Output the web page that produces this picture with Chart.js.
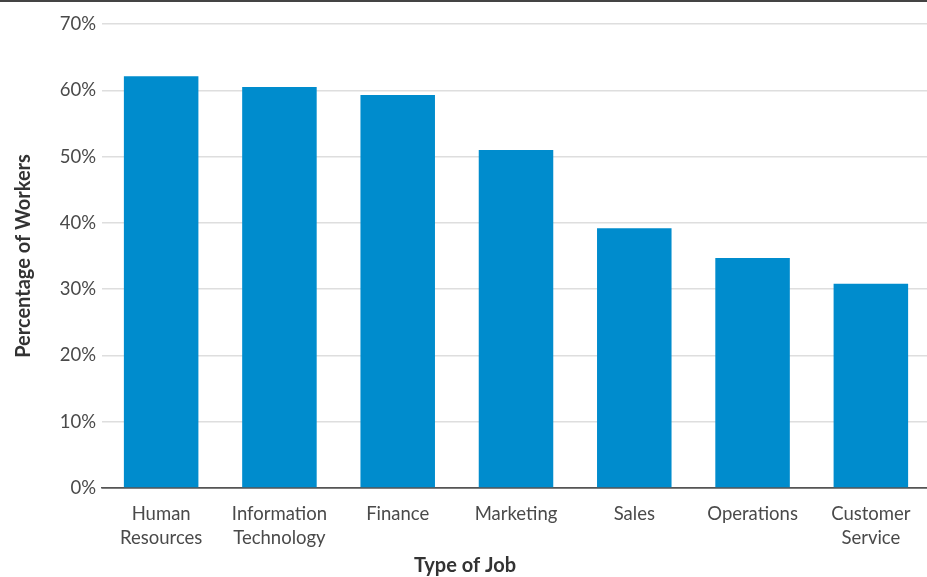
<!DOCTYPE html>
<html>
<head>
<meta charset="utf-8">
<script src="https://cdn.jsdelivr.net/npm/chart.js@4.4.1/dist/chart.umd.min.js"></script>
<style>
  html, body { margin: 0; padding: 0; background: #fff; }
  #wrap { width: 927px; height: 575px; border-top: 2px solid #444; overflow: hidden; }
</style>
</head>
<body>
<div id="wrap"><canvas id="chart" width="930" height="575"></canvas></div>
<script>
const categories = [
  ['Human', 'Resources'],
  ['Information', 'Technology'],
  'Finance',
  'Marketing',
  'Sales',
  'Operations',
  ['Customer', 'Service']
]
const workerShare = [62.1, 60.5, 59.3, 51.0, 39.2, 34.7, 30.8]
const yTicks = { min: 0, max: 70, step: 10 }

const textColor = '#4a4a4a'
const fontFamily = 'Lato, "Open Sans", sans-serif'

const chart = new Chart(document.getElementById('chart'), {
  type: 'bar',
  data: {
    labels: categories,
    datasets: [{
      data: workerShare,
      backgroundColor: '#008ccd',
      borderWidth: 0,
      barPercentage: 1,
      categoryPercentage: 0.63
    }]
  },
  options: {
    responsive: false,
    animation: false,
    layout: { padding: { top: 22, right: 0, bottom: 0, left: 0 } },
    plugins: {
      legend: { display: false },
      tooltip: { enabled: false },
      title: {
        display: true,
        position: 'bottom',
        text: 'Type of Job',
        color: '#333',
        font: { family: fontFamily, size: 20, weight: 'bold', lineHeight: 1.1 },
        padding: { top: 0, bottom: 0 }
      }
    },
    scales: {
      x: {
        grid: { display: false },
        border: { display: true, color: '#555', width: 1.5 },
        ticks: {
          color: textColor,
          font: { family: fontFamily, size: 18.5, lineHeight: 1.3 },
          padding: 6,
          maxRotation: 0,
          autoSkip: false
        },
        afterFit: (scale) => { scale.height = 67 }
      },
      y: {
        min: yTicks.min,
        max: yTicks.max,
        border: { display: false },
        grid: {
          drawTicks: false,
          lineWidth: 1.5,
          color: (ctx) => ctx.tick && ctx.tick.value === 0 ? '#555' : '#dedede'
        },
        ticks: {
          stepSize: yTicks.step,
          padding: 6,
          color: textColor,
          font: { family: fontFamily, size: 18.5 },
          callback: (v) => v + '%'
        },
        title: {
          display: true,
          text: 'Percentage of Workers',
          color: '#333',
          font: { family: fontFamily, size: 20, weight: 'bold', lineHeight: 1.1 },
          padding: { top: 13, bottom: 0 }
        },
        afterFit: (scale) => { scale.width = 102 }
      }
    }
  }
})
</script>
</body>
</html>
